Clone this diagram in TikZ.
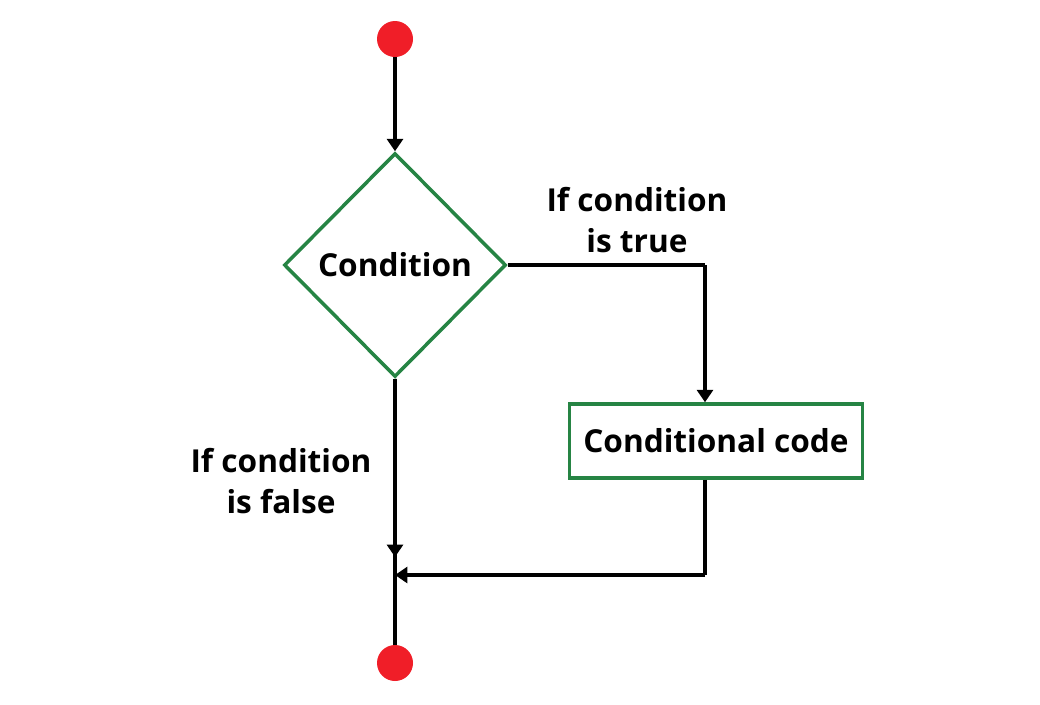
\documentclass[tikz,border=0pt]{standalone}
\usepackage{fontspec}
\setmainfont{Open Sans}
\usetikzlibrary{shapes.geometric,arrows.meta}
\definecolor{flowgreen}{RGB}{38,132,68}
\definecolor{dotred}{RGB}{240,30,40}
\begin{document}
\begin{tikzpicture}[x=0.02cm,y=-0.02cm,
		line/.style={line width=2.2pt},
		arr/.style={line,-{Triangle[width=9pt,length=7pt]}},
		dot/.style={circle,fill=dotred,minimum size=0.72cm,inner sep=0},
		decision/.style={diamond,draw=flowgreen,line width=2pt,minimum width=4.44cm,minimum height=4.48cm,inner sep=0,font=\fontsize{18}{22}\selectfont\bfseries},
		block/.style={rectangle,draw=flowgreen,line width=2pt,minimum width=5.86cm,minimum height=1.48cm,font=\fontsize{18}{22}\selectfont\bfseries},
		lbl/.style={align=center,font=\fontsize{18}{23}\selectfont\bfseries}]
		\useasboundingbox (0,0) rectangle (1040,704);

		\node [dot] (start) at (395,39) {};
		\node [decision] (cond) at (395,265) {Condition};
		\node [block] (code) at (716,441) {Conditional code};
		\node [dot] (stop) at (395,663) {};
		\coordinate (corner) at (705,265);
		\coordinate (back) at (705,575);
		\coordinate (merge) at (395,575);

		\node [lbl] (truelbl) at (637,220) {If condition\\is true};
		\node [lbl] (falselbl) at (281,481) {If condition\\is false};

		\draw [arr] (start) -- (cond.north);
		\draw [line] (cond.east) -- (corner);
		\draw [arr] (corner) -- (corner |- code.north);
		\draw [line] (corner |- code.south) -- (back);
		\draw [arr] (back) -- (merge);
		\draw [line] (cond.south) -- (stop);
		\draw [arr] (cond.south) -- ([yshift=0.36cm]merge);
	\end{tikzpicture}
\end{document}
